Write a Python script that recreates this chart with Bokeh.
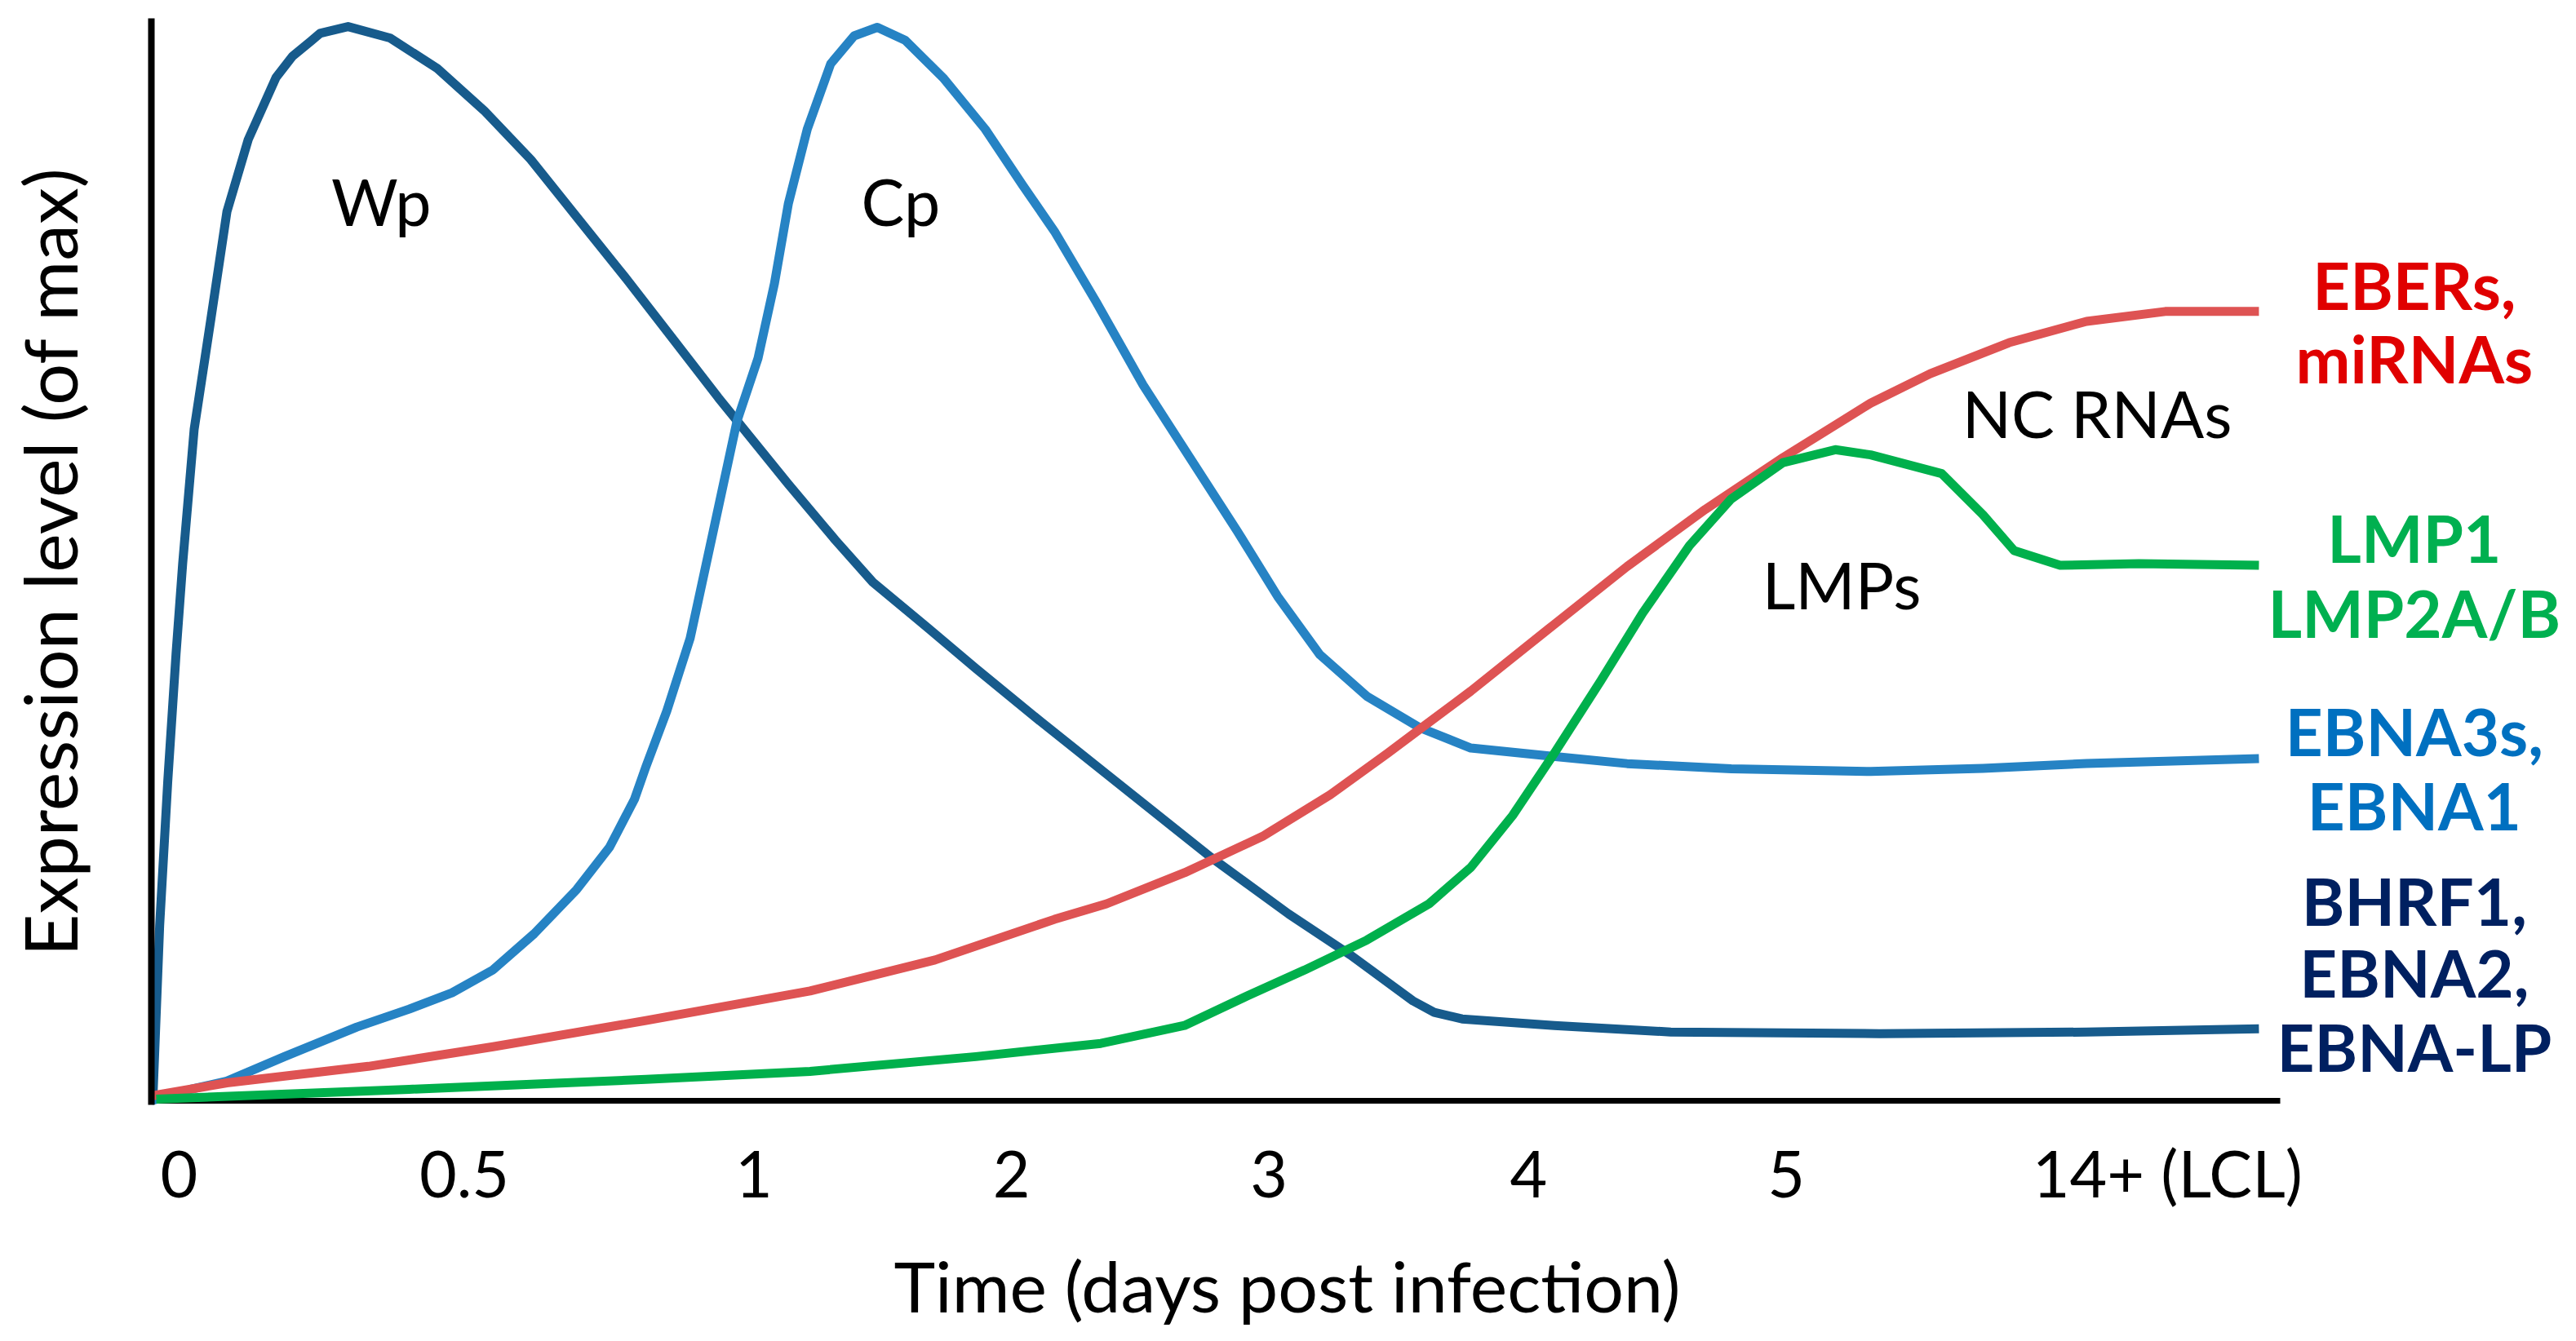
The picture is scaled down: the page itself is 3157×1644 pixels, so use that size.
from bokeh.plotting import figure
from bokeh.models import Range1d, FixedTicker, Label, Title
from bokeh.embed import file_html
from bokeh.resources import INLINE

# Horizontal position along the (non-linear) time axis: 0 = infection, 100 = end of axis
tick_pos = [1.3, 14.7, 28.3, 40.4, 52.5, 64.7, 76.8, 94.7]
tick_labels = ["0", "0.5", "1", "2", "3", "4", "5", "14+ (LCL)"]
axis_end = 100

# Wp transcripts (BHRF1, EBNA2, EBNA-LP) - expression, % of max
wp_x = [0, 0.08, 0.39, 0.77, 1.16, 1.47, 2.01, 2.78, 3.55, 4.55, 5.86, 6.64, 7.48,
        7.92, 9.24, 11.23, 13.43, 15.63, 17.82, 20.02, 22.22, 24.43, 26.63, 29.92,
        32.13, 33.89, 36.53, 38.73, 41.81, 44.87, 49.76, 53.43, 56.33, 59.26,
        60.26, 61.57, 65.90, 71.37, 81.17, 90.90, 99.0]
wp_y = [0, 0.61, 16.19, 29.50, 41.30, 49.62, 62.03, 72.01, 82.15, 88.80, 94.55,
        96.52, 97.88, 98.61, 99.24, 98.17, 95.37, 91.48, 86.96, 81.56, 76.17,
        70.56, 64.96, 56.97, 51.80, 47.91, 43.60, 39.94, 34.98, 30.18, 22.51,
        17.25, 13.46, 9.23, 8.17, 7.56, 6.96, 6.35, 6.20, 6.35, 6.66]

# Cp transcripts (EBNA3s, EBNA1)
cp_x = [0, 1.85, 3.55, 6.25, 9.65, 12.11, 14.12, 16.05, 17.98, 19.98, 21.53, 22.69,
        23.23, 24.21, 25.31, 26.40, 27.51, 28.50, 29.27, 29.92, 30.81, 31.91, 33.01,
        34.10, 35.42, 37.19, 39.17, 40.93, 42.42, 44.38, 46.58, 48.78, 50.98, 52.94,
        54.89, 57.09, 59.54, 61.98, 65.65, 69.32, 74.21, 80.76, 86.03, 90.90, 99.0]
cp_y = [0, 1.06, 1.82, 4.08, 6.81, 8.47, 9.98, 12.10, 15.43, 19.52, 23.45, 27.84,
        30.86, 36.00, 42.74, 52.66, 62.80, 68.62, 75.52, 82.86, 89.76, 95.80, 98.38,
        99.17, 97.96, 94.51, 89.76, 84.58, 80.33, 73.81, 66.14, 59.42, 52.72, 46.49,
        41.21, 37.38, 34.51, 32.59, 31.86, 31.15, 30.67, 30.42, 30.71, 31.16, 31.62]

# Non-coding RNAs (EBERs, miRNAs)
nc_x = [0, 3.55, 10.19, 16.05, 23.23, 30.94, 36.81, 42.42, 44.87, 48.53, 52.20,
        55.38, 58.07, 59.54, 61.98, 65.65, 69.32, 72.99, 76.65, 80.76, 83.56, 87.27,
        90.90, 94.60, 99.0]
nc_y = [0.45, 1.66, 3.18, 4.99, 7.41, 10.14, 13.01, 16.76, 18.20, 21.07, 24.43,
        28.28, 32.10, 34.27, 37.85, 43.62, 49.36, 54.63, 59.43, 64.45, 67.17, 70.04,
        72.01, 72.92, 72.92]

# LMPs (LMP1, LMP2A/B)
lmp_x = [0.23, 12.11, 23.23, 30.94, 38.73, 44.60, 48.53, 51.47, 54.16, 57.09, 60.02,
         61.98, 63.94, 65.90, 68.09, 70.05, 72.25, 74.21, 76.65, 79.10, 80.76, 84.10,
         86.03, 87.50, 89.66, 93.36, 99.0]
lmp_y = [0.15, 1.06, 1.97, 2.72, 4.08, 5.30, 6.96, 9.68, 12.07, 14.84, 18.20, 21.56,
         26.35, 32.10, 38.82, 45.05, 51.29, 55.60, 58.96, 60.15, 59.67, 57.94, 54.16,
         50.83, 49.47, 49.62, 49.47]

curve_labels = ["Wp", "Cp", "NC RNAs", "LMPs"]
curve_label_x = [10.8, 35.2, 91.4, 79.4]
curve_label_y = [83.1, 83.1, 63.5, 47.7]

right_labels = ["EBERs,", "miRNAs", "LMP1", "LMP2A/B", "EBNA3s,", "EBNA1",
                "BHRF1,", "EBNA2,", "EBNA-LP"]
right_label_y = [75.4, 68.6, 52.0, 45.1, 34.2, 27.3, 18.5, 11.9, 5.0]
right_label_x = 106.3
right_label_colors = ["#E00000", "#E00000", "#00B050", "#00B050", "#0070C0",
                      "#0070C0", "#002060", "#002060", "#002060"]

x_title = "Time (days post infection)"
y_title = "Expression level (of max)"

FONT = "Lato"
W, H = 3141, 1628

p = figure(width=W, height=H, x_range=Range1d(0, 113.3), y_range=Range1d(-0.376, 100),
           output_backend="svg", toolbar_location=None,
           min_border_left=185, min_border_right=0,
           min_border_top=22, min_border_bottom=270)
p.outline_line_color = None
p.grid.visible = False
p.background_fill_color = "white"

for ax in (p.xaxis, p.yaxis):
    ax.major_tick_line_color = None
    ax.minor_tick_line_color = None
    ax.major_tick_in = 0
    ax.major_tick_out = 0
    ax.minor_tick_in = 0
    ax.minor_tick_out = 0

p.xaxis.axis_line_color = None
p.xaxis.ticker = FixedTicker(ticks=tick_pos)
p.xaxis.major_label_overrides = {t: l for t, l in zip(tick_pos, tick_labels)}
p.xaxis.major_label_text_font = FONT
p.xaxis.major_label_text_font_size = "79px"
p.xaxis.major_label_text_color = "black"
p.xaxis.major_label_standoff = 35
# small spacer so that the title below sits lower
p.xaxis.axis_label = " "
p.xaxis.axis_label_text_font_size = "2px"
p.xaxis.axis_label_standoff = 31

p.yaxis.axis_line_color = "black"
p.yaxis.axis_line_width = 8
p.yaxis.ticker = FixedTicker(ticks=[])
p.yaxis.major_label_text_font_size = "0px"
p.yaxis.axis_label = y_title
p.yaxis.axis_label_text_font = FONT
p.yaxis.axis_label_text_font_size = "90px"
p.yaxis.axis_label_text_font_style = "normal"
p.yaxis.axis_label_text_color = "black"
p.yaxis.axis_label_standoff = 72

# visible x-axis line (only up to the end of the time axis)
p.segment(x0=[0], y0=[0], x1=[axis_end], y1=[0], line_color="black", line_width=7)

lw = 11
p.line(wp_x, wp_y, line_color="#175B8C", line_width=lw, line_join="round")
p.line(cp_x, cp_y, line_color="#2683C4", line_width=lw, line_join="round")
p.line(nc_x, nc_y, line_color="#DE5353", line_width=lw, line_join="round")
p.line(lmp_x, lmp_y, line_color="#00B04C", line_width=lw, line_join="round")

for t, x, y in zip(curve_labels, curve_label_x, curve_label_y):
    p.add_layout(Label(x=x, y=y, text=t, text_font=FONT, text_font_size="79px",
                       text_color="black", text_align="center",
                       text_baseline="alphabetic"))

for t, y, c in zip(right_labels, right_label_y, right_label_colors):
    p.add_layout(Label(x=right_label_x, y=y, text=t, text_font=FONT,
                       text_font_size="80px", text_font_style="bold",
                       text_color=c, text_align="center",
                       text_baseline="alphabetic"))

p.add_layout(Title(text=x_title, align="left", offset=910, vertical_align="top",
                   standoff=0, text_font=FONT, text_font_size="86px",
                   text_font_style="normal", text_color="black"), "below")

open("out.html", "w").write(file_html(p, INLINE))
